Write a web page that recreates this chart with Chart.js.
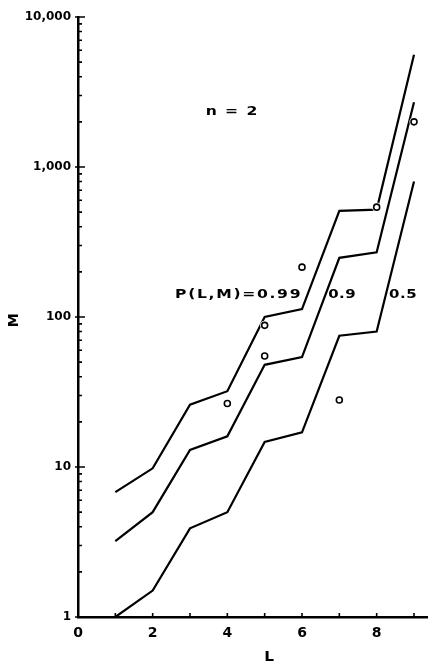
<!DOCTYPE html>
<html>
<head>
<meta charset="utf-8">
<script src="https://cdn.jsdelivr.net/npm/chart.js@4.4.1/dist/chart.umd.min.js"></script>
<style>
  html, body { margin: 0; padding: 0; background: #fff; }
  #wrap { width: 428px; height: 663px; position: relative; }
</style>
</head>
<body>
<div id="wrap"><canvas id="chart"></canvas></div>
<script>
// L values along the x axis
const lValues = [1, 2, 3, 4, 5, 6, 7, 8, 9];

// P(L,M) contour lines
const p99 = [6.8, 9.8, 26, 32, 100, 113, 510, 520, 5600];
const p90 = [3.2, 5.0, 13, 16, 48, 54, 248, 270, 2700];
const p50 = [1.0, 1.5, 3.9, 5.0, 14.7, 17, 75, 80, 800];

// observed points (open circles)
const obsL = [4, 5, 5, 6, 7, 8, 9];
const obsM = [26.5, 55, 88, 215, 28, 540, 2000];

// axis ticks
const xTicks = [0, 1, 2, 3, 4, 5, 6, 7, 8, 9];
const xTickLabels = ["0", "", "2", "", "4", "", "6", "", "8", ""];
const yMajor = [1, 10, 100, 1000, 10000];
const yMajorLabels = ["1", "10", "100", "1,000", "10,000"];

const FONT = "'DejaVu Sans', sans-serif";

const toPoints = (xs, ys) => xs.map((x, i) => ({ x, y: ys[i] }));

const yTickValues = () => {
  const out = [];
  for (let d = 0; d < 4; d += 1) {
    for (let m = 1; m < 10; m += 1) out.push(m * Math.pow(10, d));
  }
  out.push(10000);
  return out;
};

const lineSet = (label, values) => ({
  type: "line",
  label,
  data: toPoints(lValues, values),
  borderColor: "#000",
  borderWidth: 2.2,
  pointRadius: 0,
  tension: 0,
  fill: false,
  order: 3,
});

// inward tick marks on both axes
const innerTicks = {
  id: "innerTicks",
  afterDraw(chart) {
    const { ctx, scales } = chart;
    const x = scales.x;
    const y = scales.y;
    const left = chart.chartArea.left;
    const bottom = chart.chartArea.bottom;
    ctx.save();
    ctx.strokeStyle = "#000";
    ctx.lineWidth = 1.6;
    ctx.beginPath();
    yTickValues().forEach((v) => {
      const py = y.getPixelForValue(v);
      const major = yMajor.includes(v);
      ctx.moveTo(left - (major ? 3 : 0), py);
      ctx.lineTo(left + (major ? 7 : 4), py);
    });
    xTicks.forEach((v) => {
      const px = x.getPixelForValue(v);
      ctx.moveTo(px, bottom);
      ctx.lineTo(px, bottom - 4);
    });
    ctx.stroke();
    ctx.restore();
  },
};

// lettering inside the plot, anchored in data units
const notes = [
  { text: "n = 2", x: 3.42, y: 2330, sx: 1.2, spacing: 1.2 },
  { text: "P(L,M)=0.99", x: 2.6, y: 142, sx: 1.2, spacing: 1.4 },
  { text: "0.9", x: 6.7, y: 142, sx: 1.15, spacing: 0.5 },
  { text: "0.5", x: 8.33, y: 142, sx: 1.15, spacing: 0.5 },
];

const drawText = (ctx, n, px, py, rotate) => {
  ctx.save();
  ctx.translate(px, py);
  if (rotate) ctx.rotate(-Math.PI / 2);
  ctx.scale(n.sx, 1);
  ctx.letterSpacing = `${n.spacing}px`;
  ctx.fillText(n.text, 0, 0);
  ctx.restore();
};

const lettering = {
  id: "lettering",
  afterDraw(chart) {
    const { ctx, scales } = chart;
    ctx.save();
    ctx.fillStyle = "#000";
    ctx.font = `bold 13px ${FONT}`;
    ctx.textBaseline = "middle";
    ctx.textAlign = "left";
    notes.forEach((n) => {
      drawText(ctx, n, scales.x.getPixelForValue(n.x), scales.y.getPixelForValue(n.y), false);
    });
    // axis names
    ctx.textAlign = "center";
    ctx.font = `bold 14px ${FONT}`;
    drawText(ctx, { text: "L", sx: 1.1, spacing: 0 }, scales.x.getPixelForValue(5.12), chart.chartArea.bottom + 40, false);
    drawText(ctx, { text: "M", sx: 1.0, spacing: 0 }, 14, scales.y.getPixelForValue(95), true);
    ctx.restore();
  },
};

const init = () => {
  const ctx = document.getElementById("chart");
  new Chart(ctx, {
    type: "scatter",
    data: {
      datasets: [
        {
          label: "observed",
          data: toPoints(obsL, obsM),
          pointRadius: 3,
          borderWidth: 1.6,
          borderColor: "#000",
          backgroundColor: "#fff",
          order: 1,
        },
        {
          label: "halo",
          data: toPoints(obsL, obsM),
          pointRadius: 4.6,
          borderWidth: 0,
          borderColor: "#fff",
          backgroundColor: "#fff",
          order: 2,
        },
        lineSet("0.99", p99),
        lineSet("0.9", p90),
        lineSet("0.5", p50),
      ],
    },
    options: {
      responsive: true,
      maintainAspectRatio: false,
      animation: false,
      events: [],
      layout: { autoPadding: false, padding: { top: 17, right: 0, left: 0, bottom: 0 } },
      plugins: { legend: { display: false }, tooltip: { enabled: false } },
      scales: {
        x: {
          type: "linear",
          min: 0,
          max: 9.375,
          afterBuildTicks: (s) => {
            s.ticks = xTicks.map((v) => ({ value: v }));
          },
          afterFit: (s) => {
            s.height = 46;
          },
          grid: { display: false, drawTicks: false },
          border: { display: true, color: "#000", width: 2.5 },
          ticks: {
            autoSkip: false,
            maxRotation: 0,
            padding: 8,
            color: "#000",
            font: { family: FONT, size: 14, weight: "bold" },
            callback: (v) => xTickLabels[xTicks.indexOf(v)] || "",
          },
        },
        y: {
          type: "logarithmic",
          min: 1,
          max: 10000,
          afterBuildTicks: (s) => {
            s.ticks = yTickValues().map((v) => ({ value: v }));
          },
          afterFit: (s) => {
            s.width = 78;
          },
          grid: { display: false, drawTicks: false },
          border: { display: true, color: "#000", width: 2.5 },
          ticks: {
            autoSkip: false,
            padding: 7,
            color: "#000",
            font: { family: FONT, size: 12, weight: "bold" },
            callback: (v) => {
              const i = yMajor.indexOf(v);
              return i >= 0 ? yMajorLabels[i] : "";
            },
          },
        },
      },
    },
    plugins: [innerTicks, lettering],
  });
};

document.addEventListener("DOMContentLoaded", init);
</script>
</body>
</html>
